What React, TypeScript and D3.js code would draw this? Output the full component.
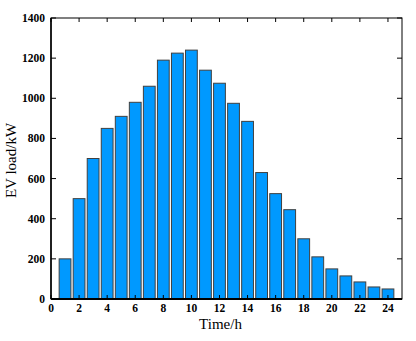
import React from 'react';
import * as d3 from 'd3';

// hourly EV charging load
const hours = d3.range(1, 25);
const loads = [200, 500, 700, 850, 910, 980, 1060, 1190, 1225, 1240, 1140, 1075, 975, 885, 630, 525, 445, 300, 210, 150, 115, 85, 60, 50];
const xTicks = d3.range(0, 25, 2);
const yTicks = [0, 200, 400, 600, 800, 1000, 1200, 1400];

const W = 416;
const H = 341;
const margin = { left: 51, top: 18, right: 14, bottom: 42 };

const App = () => {
  const innerW = W - margin.left - margin.right;
  const innerH = H - margin.top - margin.bottom;

  const x = d3.scaleLinear().domain([0, 25]).range([0, innerW]);
  const y = d3.scaleLinear().domain([0, 1400]).range([innerH, 0]);
  const barW = (x(1) - x(0)) * 0.84;
  const font = '"Liberation Serif", "DejaVu Serif", serif';

  return (
    <svg width={W} height={H} style={{ position: 'absolute', left: 0, top: 0 }}>
      <g transform={`translate(${margin.left},${margin.top})`}>
        {/* bars */}
        {hours.map((h, i) => (
          <rect
            key={h}
            x={x(h) - barW / 2}
            y={y(loads[i])}
            width={barW}
            height={innerH - y(loads[i])}
            fill="#0099ff"
            stroke="#404040"
            strokeWidth={1}
          />
        ))}

        {/* frame */}
        <rect x={0} y={0} width={innerW} height={innerH} fill="none" stroke="#000" strokeWidth={1} />
        <line x1={0} x2={innerW} y1={innerH} y2={innerH} stroke="#000" strokeWidth={2} />
        <line x1={0} x2={0} y1={0} y2={innerH} stroke="#000" strokeWidth={1.5} />

        {/* y ticks inward, left and right */}
        {yTicks.map((t) => (
          <g key={t}>
            <line x1={0} x2={5} y1={y(t)} y2={y(t)} stroke="#000" />
            <line x1={innerW - 5} x2={innerW} y1={y(t)} y2={y(t)} stroke="#000" />
            <text
              x={-6}
              y={y(t)}
              dy="0.35em"
              textAnchor="end"
              fontFamily={font}
              fontWeight="bold"
              fontSize={11.5}
            >
              {t}
            </text>
          </g>
        ))}

        {/* x ticks inward, top and bottom */}
        {xTicks.map((t) => (
          <g key={t}>
            <line x1={x(t)} x2={x(t)} y1={0} y2={4} stroke="#000" />
            <line x1={x(t)} x2={x(t)} y1={innerH - 4} y2={innerH} stroke="#000" />
            <text
              x={x(t)}
              y={innerH + 13}
              textAnchor="middle"
              fontFamily={font}
              fontWeight="bold"
              fontSize={11.5}
            >
              {t}
            </text>
          </g>
        ))}

        <text
          x={innerW / 2 - 6}
          y={innerH + 30}
          textAnchor="middle"
          fontFamily={font}
          fontSize={15}
        >
          Time/h
        </text>
        <text
          transform={`translate(${-35},${innerH / 2 + 2}) rotate(-90)`}
          textAnchor="middle"
          fontFamily={font}
          fontSize={15}
        >
          EV load/kW
        </text>
      </g>
    </svg>
  );
};

export default App;
